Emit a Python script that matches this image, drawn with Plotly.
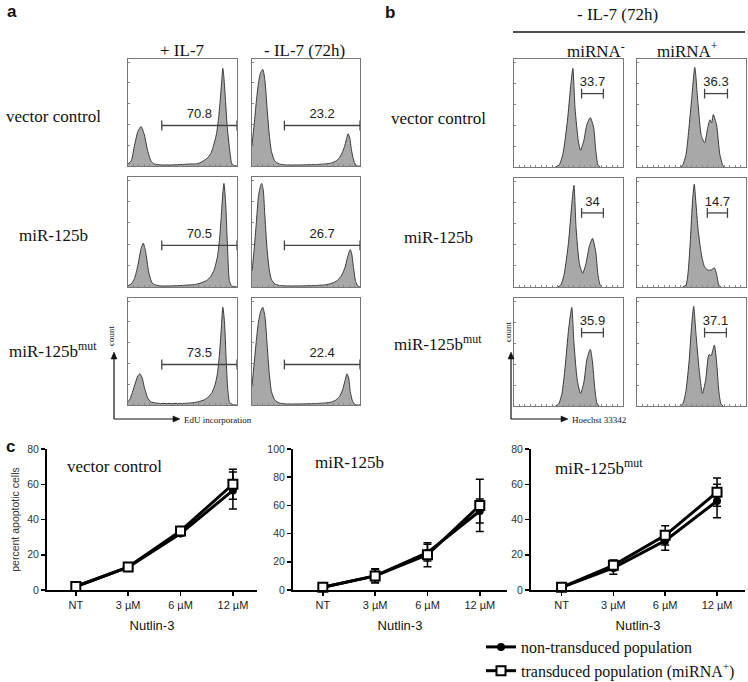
import plotly.graph_objects as go

# ---------------- DATA ----------------
# Panel a: EdU histograms (x = % of axis, y = relative count)
a_rows = ["vector control", "miR-125b", "miR-125b<sup>mut</sup>"]
a_cols = ["+ IL-7", "- IL-7 (72h)"]

a11_x = [0, 3, 6, 9, 12, 15, 18, 21, 24, 30, 40, 50, 58, 62, 66, 72, 76, 78, 81, 83, 84.5, 86, 87, 88, 89.5, 91, 93, 95, 97, 100]
a11_y = [0.02, 0.05, 0.2, 0.33, 0.38, 0.3, 0.15, 0.05, 0.02, 0.01, 0.01, 0.015, 0.02, 0.02, 0.03, 0.07, 0.12, 0.18, 0.3, 0.45, 0.62, 0.82, 0.94, 0.85, 0.62, 0.38, 0.18, 0.03, 0.005, 0]
a12_x = [0, 2, 4, 6, 8, 10, 12, 14, 16, 18, 21, 25, 32, 45, 60, 68, 74, 78, 81, 84, 86, 88, 89, 90.5, 92, 94, 96, 98, 100]
a12_y = [0.2, 0.4, 0.62, 0.8, 0.9, 0.93, 0.82, 0.55, 0.3, 0.14, 0.05, 0.02, 0.01, 0.01, 0.015, 0.02, 0.03, 0.05, 0.08, 0.14, 0.2, 0.28, 0.31, 0.27, 0.16, 0.06, 0.01, 0, 0]
a21_x = [0, 3, 6, 9, 12, 14, 16, 19, 22, 25, 30, 40, 50, 58, 62, 66, 72, 76, 79, 82, 84, 85.5, 87, 88, 89.5, 91, 93, 95, 97, 100]
a21_y = [0.01, 0.03, 0.08, 0.2, 0.36, 0.41, 0.34, 0.14, 0.04, 0.02, 0.01, 0.01, 0.015, 0.02, 0.025, 0.035, 0.06, 0.1, 0.16, 0.28, 0.45, 0.65, 0.88, 0.97, 0.8, 0.45, 0.06, 0.01, 0.005, 0]
a22_x = [0, 2, 4, 6, 8, 9, 10.5, 12, 14, 16, 18, 21, 25, 32, 45, 60, 68, 74, 79, 83, 86, 88, 90, 91, 92.5, 94, 96, 98, 100]
a22_y = [0.15, 0.35, 0.6, 0.85, 0.95, 0.97, 0.9, 0.65, 0.35, 0.16, 0.07, 0.03, 0.015, 0.01, 0.01, 0.015, 0.02, 0.035, 0.06, 0.11, 0.18, 0.26, 0.33, 0.35, 0.3, 0.18, 0.05, 0.01, 0]
a31_x = [0, 2, 4, 7, 9, 11, 13, 15, 18, 21, 25, 30, 40, 50, 58, 64, 70, 74, 77, 80, 82, 84, 85.5, 87, 88.5, 90, 91.5, 93, 95, 100]
a31_y = [0.03, 0.06, 0.12, 0.22, 0.28, 0.3, 0.26, 0.17, 0.07, 0.03, 0.02, 0.015, 0.015, 0.015, 0.02, 0.03, 0.05, 0.08, 0.12, 0.2, 0.3, 0.5, 0.72, 0.94, 0.8, 0.45, 0.15, 0.03, 0.005, 0]
a32_x = [0, 2, 4, 6, 8, 10, 12, 14, 16, 18, 21, 25, 32, 45, 60, 68, 74, 78, 81, 84, 86, 88, 89.5, 91, 93, 95, 97, 100]
a32_y = [0.18, 0.4, 0.62, 0.8, 0.9, 0.94, 0.85, 0.58, 0.3, 0.13, 0.05, 0.02, 0.01, 0.01, 0.015, 0.02, 0.03, 0.05, 0.08, 0.15, 0.23, 0.3, 0.26, 0.13, 0.04, 0.01, 0, 0]

a_gate_values = [["70.8", "23.2"], ["70.5", "26.7"], ["73.5", "22.4"]]
a_gate_range = [[31, 100], [30, 100]]

# Panel b: Hoechst histograms
b_rows = ["vector control", "miR-125b", "miR-125b<sup>mut</sup>"]
b_cols = ["miRNA<sup>-</sup>", "miRNA<sup>+</sup>"]

b11_x = [38, 41.5, 45, 49, 52, 54, 56, 59, 61, 64, 67, 70, 73, 75, 77, 79]
b11_y = [0, 0.02, 0.13, 0.44, 0.77, 0.94, 0.56, 0.25, 0.16, 0.25, 0.41, 0.47, 0.38, 0.16, 0.02, 0]
b12_x = [40, 42, 45, 47, 50, 53, 56, 59, 62, 65, 67, 68.5, 70, 73, 76, 79, 81]
b12_y = [0, 0.02, 0.12, 0.3, 0.63, 0.95, 0.6, 0.3, 0.23, 0.38, 0.45, 0.42, 0.5, 0.4, 0.12, 0.01, 0]
b21_x = [40, 43, 46, 50, 53, 55, 57, 60, 63, 66, 69, 72, 75, 77, 79, 81]
b21_y = [0, 0.02, 0.12, 0.42, 0.78, 0.96, 0.55, 0.22, 0.13, 0.22, 0.38, 0.46, 0.33, 0.12, 0.02, 0]
b22_x = [42, 45, 47, 49, 51, 52.5, 54, 56, 58, 60, 62, 65, 68, 71, 73, 75, 77]
b22_y = [0, 0.02, 0.15, 0.45, 0.82, 0.97, 0.8, 0.55, 0.38, 0.26, 0.19, 0.16, 0.16, 0.18, 0.12, 0.02, 0]
b31_x = [38, 41, 44, 47, 50, 53, 55, 58, 61, 64, 67, 70, 72, 74, 76, 78]
b31_y = [0, 0.02, 0.12, 0.38, 0.72, 0.94, 0.6, 0.25, 0.12, 0.22, 0.45, 0.54, 0.42, 0.18, 0.03, 0]
b32_x = [39, 42, 45, 48, 50, 52, 54, 57, 60, 63, 66, 68, 71, 73, 75, 77, 79]
b32_y = [0, 0.02, 0.15, 0.45, 0.75, 0.95, 0.7, 0.35, 0.12, 0.25, 0.49, 0.48, 0.58, 0.42, 0.15, 0.02, 0]

b_gate_values = [["33.7", "36.3"], ["34", "14.7"], ["35.9", "37.1"]]
b_gate_range = [[[62, 82], [62, 83]], [[62, 82], [64.5, 83]], [[62, 82], [62, 82]]]

# Panel c: percent apoptotic cells
nutlin = ["NT", "3 µM", "6 µM", "12 µM"]
c_titles = ["vector control", "miR-125b", "miR-125b<sup>mut</sup>"]
c_ymax = [80, 100, 80]
non_trans = [[2, 13, 32, 56.5], [2, 10, 26.5, 56], [1.5, 12.5, 28, 50.5]]
non_trans_err = [[0.8, 1, 1.2, 10.5], [1, 4.5, 6, 8.5], [0.8, 3.5, 5.5, 9.5]]
trans = [[2, 13, 33.5, 60], [2, 10, 25, 60], [1.5, 14, 31, 55.5]]
trans_err = [[0.8, 1, 1.2, 8.5], [1, 5, 8.5, 18.5], [0.8, 3, 5.5, 8]]
legend_names = ["non-transduced population", "transduced population (miRNA<sup>+</sup>)"]

# ---------------- LAYOUT HELPERS ----------------
W, H = 748, 682
SERIF = "Liberation Serif"
SANS = "Liberation Sans"


def fx(p):
    return p / W


def fy(p):
    return 1 - p / H


fig = go.Figure()
layout = dict(width=W, height=H, margin=dict(l=0, r=0, t=0, b=0, autoexpand=False),
              paper_bgcolor="white", plot_bgcolor="white", showlegend=True)
annotations = []
shapes = []
counter = [0]


def new_axes(x0, x1, y0, y1, xcfg, ycfg):
    counter[0] += 1
    n = counter[0]
    s = "" if n == 1 else str(n)
    layout["xaxis" + s] = dict(domain=[fx(x0), fx(x1)], anchor="y" + s, **xcfg)
    layout["yaxis" + s] = dict(domain=[fy(y1), fy(y0)], anchor="x" + s, **ycfg)
    return "x" + s, "y" + s


def text(x, y, t, size=17, family=SERIF, xanchor="center", angle=0, bold=False, color="#111"):
    if bold:
        t = "<b>" + t + "</b>"
    annotations.append(dict(x=fx(x), y=fy(y), xref="paper", yref="paper", text=t, showarrow=False,
                            xanchor=xanchor, yanchor="middle", textangle=angle,
                            font=dict(family=family, size=size, color=color)))


def pline(x0, y0, x1, y1, width=1.2, color="#111"):
    shapes.append(dict(type="line", xref="paper", yref="paper", x0=fx(x0), x1=fx(x1), y0=fy(y0), y1=fy(y1),
                       line=dict(color=color, width=width)))


def ptri(points, color="#111"):
    path = "M " + " L ".join("%.5f,%.5f" % (fx(px), fy(py)) for px, py in points) + " Z"
    shapes.append(dict(type="path", xref="paper", yref="paper", path=path, fillcolor=color,
                       line=dict(color=color, width=0.5)))


hist_x = dict(range=[0, 100], showline=True, mirror=True, linecolor="#777", linewidth=1,
              ticks="inside", ticklen=2, tickcolor="#888", dtick=5, showticklabels=False,
              showgrid=False, zeroline=False, fixedrange=True)
hist_y = dict(range=[0, 1.03], showline=True, mirror=True, linecolor="#777", linewidth=1,
              ticks="inside", ticklen=2, tickcolor="#888", dtick=0.2, showticklabels=False,
              showgrid=False, zeroline=False, fixedrange=True)


def histogram(xa, ya, hx, hy):
    fig.add_trace(go.Scatter(x=hx, y=hy, xaxis=xa, yaxis=ya, mode="lines",
                             line=dict(color="#3a3a3a", width=1, shape="spline", smoothing=0.6),
                             fill="tozeroy", fillcolor="#a8a8a8", showlegend=False, hoverinfo="skip"))


def gate(xa, ya, g, gy, label, ly):
    fig.add_trace(go.Scatter(x=g, y=[gy, gy], xaxis=xa, yaxis=ya, mode="lines+markers",
                             line=dict(color="#444", width=1.3),
                             marker=dict(symbol="line-ns-open", size=7, line=dict(width=1.3, color="#444")),
                             cliponaxis=False, showlegend=False, hoverinfo="skip"))
    fig.add_trace(go.Scatter(x=[(g[0] + g[1]) / 2], y=[ly], xaxis=xa, yaxis=ya, mode="text",
                             text=[label], textposition="middle center", cliponaxis=False,
                             textfont=dict(family=SANS, size=13, color="#222"),
                             showlegend=False, hoverinfo="skip"))


# ---------------- PANEL A ----------------
a_hist = [[(a11_x, a11_y), (a12_x, a12_y)], [(a21_x, a21_y), (a22_x, a22_y)], [(a31_x, a31_y), (a32_x, a32_y)]]
a_colpx = [(128, 237), (252, 360)]
a_rowpx = [(59, 166), (177, 287), (298, 405)]
for r in range(3):
    for c in range(2):
        xa, ya = new_axes(a_colpx[c][0], a_colpx[c][1], a_rowpx[r][0], a_rowpx[r][1], hist_x, hist_y)
        histogram(xa, ya, *a_hist[r][c])
        gate(xa, ya, a_gate_range[c], 0.39, a_gate_values[r][c], 0.49)

text(12, 12, "a", size=17, family=SANS, bold=True)
text(182, 50, a_cols[0])
text(304, 50, a_cols[1])
for r, lbl in enumerate(a_rows):
    text(53, [117, 235, 350][r], lbl)

# ---------------- PANEL B ----------------
b_hist = [[(b11_x, b11_y), (b12_x, b12_y)], [(b21_x, b21_y), (b22_x, b22_y)], [(b31_x, b31_y), (b32_x, b32_y)]]
b_colpx = [(514, 623), (637, 746)]
b_rowpx = [(59, 167), (178, 287), (298, 406)]
for r in range(3):
    for c in range(2):
        xa, ya = new_axes(b_colpx[c][0], b_colpx[c][1], b_rowpx[r][0], b_rowpx[r][1], hist_x, hist_y)
        histogram(xa, ya, *b_hist[r][c])
        gate(xa, ya, b_gate_range[r][c], 0.70, b_gate_values[r][c], 0.80)

text(390, 13, "b", size=17, family=SANS, bold=True)
text(617, 15, "- IL-7 (72h)")
pline(513, 32, 745, 32, width=1.5)
text(596, 50, b_cols[0])
text(687, 50, b_cols[1])
for r, lbl in enumerate(b_rows):
    text(438, [118, 237, 343][r], lbl)

# axis arrows (panels a and b)
for (ax_x, tx, lbl, cy) in [(114, 182, "EdU incorporation", 336), (511, 570, "Hoechst 33342", 332)]:
    pline(ax_x, 419, ax_x, 358)
    ptri([(ax_x - 3, 359), (ax_x + 3, 359), (ax_x, 352)])
    pline(ax_x, 419, tx - 8, 419)
    ptri([(tx - 9, 416), (tx - 9, 422), (tx - 2, 419)])
    text(tx, 420, lbl, size=9, xanchor="left")
    text(ax_x - 3, cy, "count", size=9, angle=-90)

# ---------------- PANEL C ----------------
c_xpx = [(47, 257), (293, 507), (531, 745)]
c_xrange = [[-0.55, 3.46], [-0.57, 3.52], [-0.59, 3.54]]
c_title_px = [(65, 467), (313, 463), (553, 467)]
for i in range(3):
    xcfg = dict(type="category", range=c_xrange[i], showline=True, linecolor="black", linewidth=2,
                ticks="outside", ticklen=4, tickwidth=1.5, tickcolor="black",
                tickfont=dict(family=SANS, size=11, color="#222"), showgrid=False, zeroline=False,
                title=dict(text="Nutlin-3", font=dict(family=SANS, size=13, color="#111"), standoff=11))
    ycfg = dict(range=[0, c_ymax[i]], dtick=20, showline=True, linecolor="black", linewidth=2,
                ticks="outside", ticklen=4, tickwidth=1.5, tickcolor="black",
                tickfont=dict(family=SANS, size=10.5, color="#333"), showgrid=False, zeroline=False)
    if i == 0:
        ycfg["title"] = dict(text="percent apoptotic cells", font=dict(family=SANS, size=10.5, color="#333"),
                             standoff=6)
    xa, ya = new_axes(c_xpx[i][0], c_xpx[i][1], 449, 590, xcfg, ycfg)
    fig.add_trace(go.Scatter(x=nutlin, y=non_trans[i], xaxis=xa, yaxis=ya, mode="lines+markers",
                             name=legend_names[0], legendgroup="non", showlegend=(i == 0),
                             line=dict(color="black", width=3),
                             marker=dict(symbol="circle", size=8, color="black"),
                             error_y=dict(type="data", array=non_trans_err[i], color="black", thickness=1.5, width=4),
                             cliponaxis=False))
    fig.add_trace(go.Scatter(x=nutlin, y=trans[i], xaxis=xa, yaxis=ya, mode="lines+markers",
                             name=legend_names[1], legendgroup="tr", showlegend=(i == 0),
                             line=dict(color="black", width=3),
                             marker=dict(symbol="square", size=9, color="white", line=dict(color="black", width=2)),
                             error_y=dict(type="data", array=trans_err[i], color="black", thickness=1.5, width=4),
                             cliponaxis=False))
    text(c_title_px[i][0], c_title_px[i][1], c_titles[i], xanchor="left")

text(10, 446, "c", size=17, family=SANS, bold=True)

layout["legend"] = dict(x=fx(481), y=fy(630), xanchor="left", yanchor="top", bgcolor="rgba(0,0,0,0)",
                        font=dict(family=SERIF, size=16, color="#111"), tracegroupgap=0, itemwidth=30)
layout["annotations"] = annotations
layout["shapes"] = shapes
fig.update_layout(**layout)
fig.write_html("out.html", config={"displayModeBar": False, "staticPlot": True},
               post_script="document.body.style.margin='0px';document.body.style.overflow='hidden';")
